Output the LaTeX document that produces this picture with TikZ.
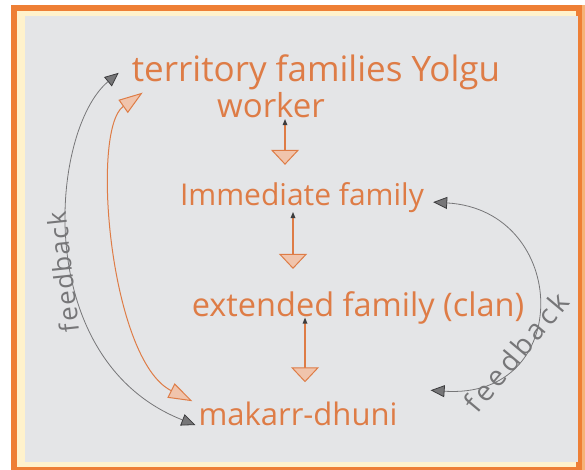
\documentclass[tikz,border=0pt]{standalone}
\usepackage{fontspec}
\setmainfont{Open Sans}
\newfontfamily\fbleft[LetterSpace=6]{Open Sans}
\newfontfamily\fbright[LetterSpace=13]{Open Sans}
\usetikzlibrary{arrows.meta,shapes.geometric}
\definecolor{frameor}{RGB}{238,127,53}
\definecolor{frameedge}{RGB}{246,178,120}
\definecolor{cream}{RGB}{255,242,204}
\definecolor{paper}{RGB}{228,229,231}
\definecolor{ink}{RGB}{222,124,70}
\definecolor{pencil}{RGB}{118,118,120}
\definecolor{lead}{RGB}{60,60,62}
\tikzset{
  lbl/.style={text=ink, inner sep=0pt, anchor=base},
  fbk/.style={text=pencil, inner sep=0pt},
  vhead/.tip={Triangle[open, width=28pt, length=15pt, line width=1pt, fill=ink!45]},
  tailmark/.style={isosceles triangle, fill=lead, draw=none, inner sep=0pt, minimum height=6pt, minimum width=5pt, shape border rotate=90},
  varrow/.style={color=ink, draw=ink, line width=1.3pt, arrows={-vhead}},
  ohead/.tip={Triangle[open, width=16pt, length=24pt, line width=1pt, fill=ink!45]},
  oarc/.style={draw=ink, line width=1pt, arrows={ohead-ohead}},
  ghead/.tip={Triangle[width=12pt, length=14pt, line width=0.8pt, color=lead, fill=pencil]},
  garc/.style={draw=pencil, line width=0.8pt, arrows={ghead-ghead}}
}
\begin{document}
\begin{tikzpicture}[x=1pt,y=-1pt]
\useasboundingbox (0,0) rectangle (585,470);
\fill[white] (0,0) rectangle (585,470);
\fill[frameedge] (11,5) rectangle (585,470);
\fill[frameor] (11,5) rectangle (582,470);
\fill[cream] (17,11) rectangle (576,467);
\fill[paper] (25,16) rectangle (578,462);

\node[lbl, font=\fontsize{35}{40}\selectfont] (terr) at (316,82) {territory families Yolgu};
\node[lbl, font=\fontsize{33}{38}\selectfont] (worker) at (271,118) {worker};
\node[lbl, font=\fontsize{30}{36}\selectfont] (imm) at (302,205) {Immediate family};
\node[lbl, font=\fontsize{32.5}{38}\selectfont] (ext) at (358,316) {extended family (clan)};
\node[lbl, font=\fontsize{31}{36}\selectfont] (mak) at (298,425) {makarr-dhuni};
\node[fbk, rotate=96, font=\fbleft\fontsize{26}{30}\selectfont] (fbl) at (63,272) {feedback};
\node[fbk, rotate=50, font=\fbright\fontsize{28}{32}\selectfont] (fbr) at (516,352) {feedback};

\coordinate (otop) at ([xshift=11pt,yshift=-2pt]terr.south west);
\coordinate (gtop) at ([xshift=-13pt]terr.west);
\coordinate (rb) at ([xshift=33pt,yshift=11pt]mak.north east);

\draw[varrow] ([xshift=14pt,yshift=-5pt]worker.south) -- node[pos=0, tailmark] {} ([xshift=-17pt,yshift=17pt]imm.north);
\draw[varrow] ([xshift=-9pt,yshift=-4pt]imm.south) -- node[pos=0, tailmark] {} ([xshift=-65pt,yshift=22pt]ext.north);
\draw[varrow] ([xshift=-53pt,yshift=2pt]ext.south) -- node[pos=0, tailmark] {} ([xshift=7pt,yshift=19pt]mak.north);

\draw[garc] ([xshift=-3pt]mak.base west) .. controls (30,360) and (50,130) .. (gtop);
\draw[oarc] ([xshift=-6pt]mak.north west) .. controls (110,360) and (90,130) .. (otop);
\draw[garc] ([xshift=9pt,yshift=-5pt]imm.east) .. controls (570,210) and (575,400) .. (rb);
\end{tikzpicture}
\end{document}
